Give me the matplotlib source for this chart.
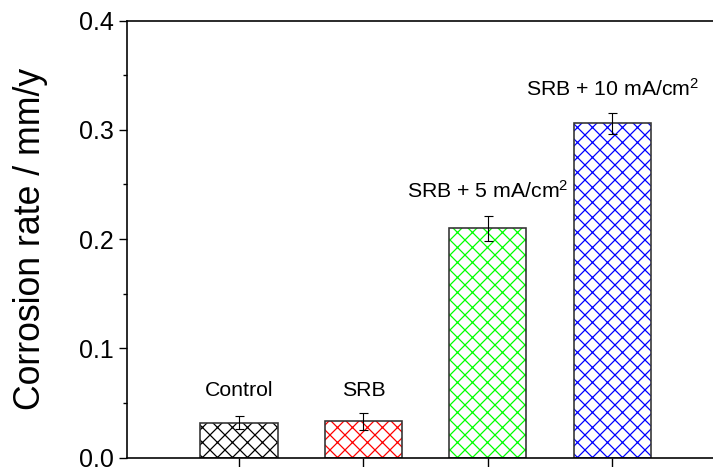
import matplotlib
matplotlib.use('Agg')
import matplotlib.pyplot as plt
from matplotlib.ticker import MultipleLocator, FormatStrFormatter

plt.rcParams['font.family'] = ['Liberation Sans', 'DejaVu Sans']
plt.rcParams['mathtext.default'] = 'regular'
plt.rcParams['hatch.linewidth'] = 1.0

# data
groups = ['Control', 'SRB', 'SRB + 5 mA/cm$^2$', 'SRB + 10 mA/cm$^2$']
rates = [0.032, 0.033, 0.210, 0.306]
errors = [0.006, 0.0075, 0.0115, 0.0097]
colors = ['black', 'red', '#00ff00', 'blue']
label_y = [0.056, 0.056, 0.238, 0.331]

dpi = 90
fig = plt.figure(figsize=(713 / dpi, 467 / dpi), dpi=dpi)
ax = fig.add_axes([0.178, 0.0203, 0.838, 0.9358])

x = list(range(1, len(groups) + 1))
width = 0.62

# hatch in bar colour, outline in dark grey
ax.bar(x, rates, width, color='white', edgecolor=colors, hatch='xx', linewidth=0)
ax.bar(x, rates, width, fill=False, edgecolor='#333333', linewidth=1.3)
ax.errorbar(x, rates, yerr=errors, fmt='none', ecolor='black',
            elinewidth=0.9, capsize=3.6, capthick=0.9)

for xi, name, yi in zip(x, groups, label_y):
    ax.text(xi, yi, name, ha='center', va='baseline', fontsize=17)

ax.set_xlim(0.1, 4.9)
ax.set_ylim(0, 0.4)
ax.set_xticks(x)
ax.set_xticklabels([])
ax.yaxis.set_major_locator(MultipleLocator(0.1))
ax.yaxis.set_minor_locator(MultipleLocator(0.05))
ax.yaxis.set_major_formatter(FormatStrFormatter('%.1f'))
ax.tick_params(axis='y', which='major', length=6.4, width=1.1, labelsize=20, pad=4)
ax.tick_params(axis='y', which='minor', length=3.2, width=1.1)
ax.tick_params(axis='x', which='major', length=8, width=1.1)
ax.set_ylabel('Corrosion rate / mm/y', fontsize=28.5, labelpad=25)

for s in ax.spines.values():
    s.set_linewidth(1.3)

fig.savefig('out.png', dpi=dpi)
